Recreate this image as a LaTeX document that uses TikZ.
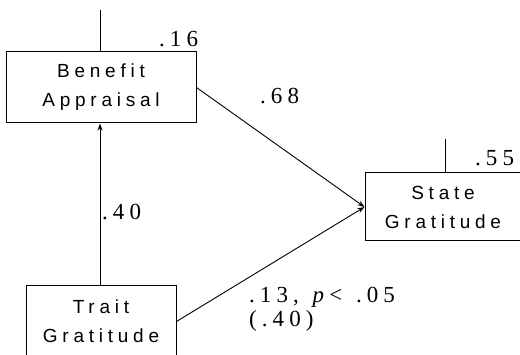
\documentclass[tikz,border=0pt]{standalone}
\usepackage{fontspec}
\setmainfont{Liberation Serif}
\newfontfamily\boxfont[LetterSpace=25]{Liberation Sans}
\newfontfamily\numfont[LetterSpace=22]{Liberation Serif}
\usetikzlibrary{arrows.meta}
\begin{document}
\begin{tikzpicture}[x=1pt,y=-1pt,
  var/.style={draw, line width=1pt, inner sep=0pt, align=center,
    font=\boxfont\fontsize{19}{29}\selectfont},
  causal/.style={line width=0.9pt, -{Stealth[length=7pt,width=5pt]}},
  stub/.style={line width=0.9pt},
  coef/.style={font=\numfont\fontsize{23}{24}\selectfont, inner sep=0pt, anchor=base west}]
\useasboundingbox (0,0) rectangle (520,355);
\clip (0,0) rectangle (520,355);

% variables
\node[var, minimum width=190pt, minimum height=71pt] (benefit) at (101,87.5) {Benefit\\Appraisal};
\node[var, minimum width=156pt, minimum height=68pt] (state) at (443,207) {State\\Gratitude};
\node[var, minimum width=150pt, minimum height=71pt] (trait) at (101,321.5) {Trait\\Gratitude};

% disturbance stubs
\coordinate (btop) at (100,10);
\coordinate (stop) at (445,139);
\draw[stub] (btop) -- (btop |- benefit.north);
\draw[stub] (stop) -- (stop |- state.north);

% paths
\draw[causal] (trait.north -| btop) -- (benefit.south -| btop);
\draw[causal] (benefit.east) -- (state.west);
\draw[causal] (trait.east) -- (state.west);

% coefficients
\node[coef] (r16) at (159,47) {.16};
\node[coef] (r55) at (475,166) {.55};
\node[coef] (c68) at (260,104) {.68};
\node[coef] (c40) at (102,220) {.40};
\node[coef] (c13) at (249,303) {.13,\hspace{3pt} \textit{p}<\hspace{3pt} .05};
\node[coef] (c13b) at (249,327) {(.40)};
\end{tikzpicture}
\end{document}
